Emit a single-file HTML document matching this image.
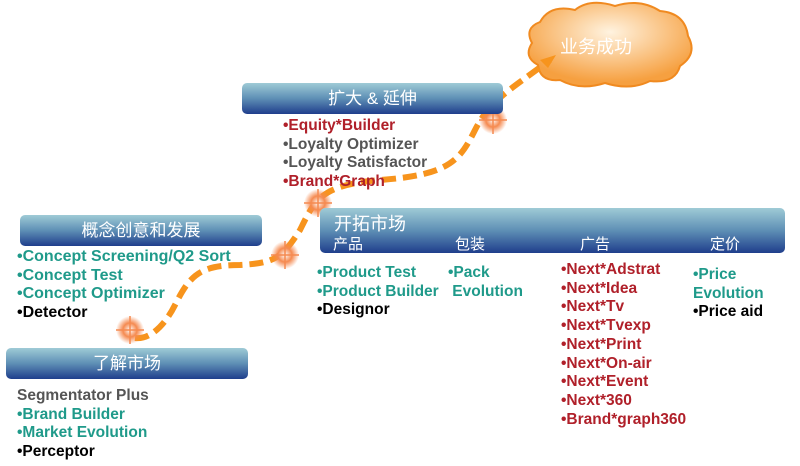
<!DOCTYPE html><html><head><meta charset="utf-8"><style>
body{margin:0;width:800px;height:466px;background:#fff;position:relative;overflow:hidden;font-family:"Liberation Sans Narrow","Liberation Sans","Noto Sans CJK SC",sans-serif}
.b{position:absolute;border-radius:5px;background:linear-gradient(#9fcbd6 0%,#5e8fb5 50%,#1f3e8c 100%);color:#fff;font-family:"Liberation Sans","Noto Sans CJK SC",sans-serif;font-size:17px}
.t{position:absolute;font-size:15.5px;font-weight:bold;line-height:18.7px;white-space:nowrap}
.g{color:#1f9a8a}.r{color:#b0202a}.k{color:#000}.y{color:#555}
</style></head><body>
<svg width="800" height="466" style="position:absolute;left:0;top:0">
<defs><radialGradient id="c" cx="50%" cy="35%" r="60%"><stop offset="0" stop-color="#fff3e0"/><stop offset="1" stop-color="#f6a040"/></radialGradient>
<radialGradient id="s"><stop offset="0" stop-color="#fff"/><stop offset=".5" stop-color="#f58a50"/><stop offset="1" stop-color="#f58a50" stop-opacity="0"/></radialGradient></defs>
<path d="M540 22 q10-18 35-12 q15-12 40-4 q25-8 45 5 q25 2 28 25 q10 18-8 30 q-5 18-30 15 q-20 10-45 2 q-25 8-45-3 q-20 2-22-15 q-15-8-6-22 q-8-15 8-21z" fill="url(#c)" stroke="#f08a20" stroke-width="2"/>
<path d="M135 338 C150 340 165 325 175 305 C190 275 200 265 240 265 C275 263 282 258 300 230 C315 200 320 185 380 180 C450 175 460 160 475 130 C490 100 510 90 550 60" fill="none" stroke="#f7941d" stroke-width="6" stroke-dasharray="14 7"/>
<polygon points="556,55 540,60 548,68" fill="#f7941d"/>
<g fill="url(#s)"><circle cx="130" cy="330" r="14"/><circle cx="285" cy="255" r="14"/><circle cx="318" cy="203" r="14"/><circle cx="493" cy="120" r="14"/></g>
<g stroke="#f58a50" stroke-width="1.5"><path d="M130 316v28M116 330h28M285 241v28M271 255h28M318 189v28M304 203h28M493 106v28M479 120h28"/></g>
</svg>
<div style="position:absolute;left:560px;top:33px;color:#fff;font-size:18px;font-family:'Noto Sans CJK SC',sans-serif">业务成功</div>
<div class="b" style="left:242px;top:83px;width:261px;height:31px;text-align:center;line-height:31px">扩大 &amp; 延伸</div>
<div class="b" style="left:20px;top:215px;width:242px;height:31px;text-align:center;line-height:31px">概念创意和发展</div>
<div class="b" style="left:6px;top:348px;width:242px;height:31px;text-align:center;line-height:31px">了解市场</div>
<div class="b" style="left:320px;top:208px;width:465px;height:45px">
<span style="position:absolute;left:14px;top:2px;font-size:18px">开拓市场</span>
<span style="position:absolute;left:13px;top:25px;font-size:15px">产品</span>
<span style="position:absolute;left:135px;top:25px;font-size:15px">包装</span>
<span style="position:absolute;left:260px;top:25px;font-size:15px">广告</span>
<span style="position:absolute;left:390px;top:25px;font-size:15px">定价</span></div>
<div class="t" style="left:283px;top:117px"><div class="r">•Equity*Builder</div><div class="y">•Loyalty Optimizer</div><div class="y">•Loyalty Satisfactor</div><div class="r">•Brand*Graph</div></div>
<div class="t" style="left:17px;top:248px;font-size:16px"><div class="g">•Concept Screening/Q2 Sort</div><div class="g">•Concept Test</div><div class="g">•Concept Optimizer</div><div class="k">•Detector</div></div>
<div class="t" style="left:17px;top:387px"><div class="y">Segmentator Plus</div><div class="g">•Brand Builder</div><div class="g">•Market Evolution</div><div class="k">•Perceptor</div></div>
<div class="t" style="left:317px;top:264px"><div class="g">•Product Test</div><div class="g">•Product Builder</div><div class="k">•Designor</div></div>
<div class="t" style="left:448px;top:264px"><div class="g">•Pack</div><div class="g">&nbsp;Evolution</div></div>
<div class="t" style="left:561px;top:261px"><div class="r">•Next*Adstrat</div><div class="r">•Next*Idea</div><div class="r">•Next*Tv</div><div class="r">•Next*Tvexp</div><div class="r">•Next*Print</div><div class="r">•Next*On-air</div><div class="r">•Next*Event</div><div class="r">•Next*360</div><div class="r">•Brand*graph360</div></div>
<div class="t" style="left:693px;top:266px"><div class="g">•Price</div><div class="g">Evolution</div><div class="k">•Price aid</div></div>
</body></html>
